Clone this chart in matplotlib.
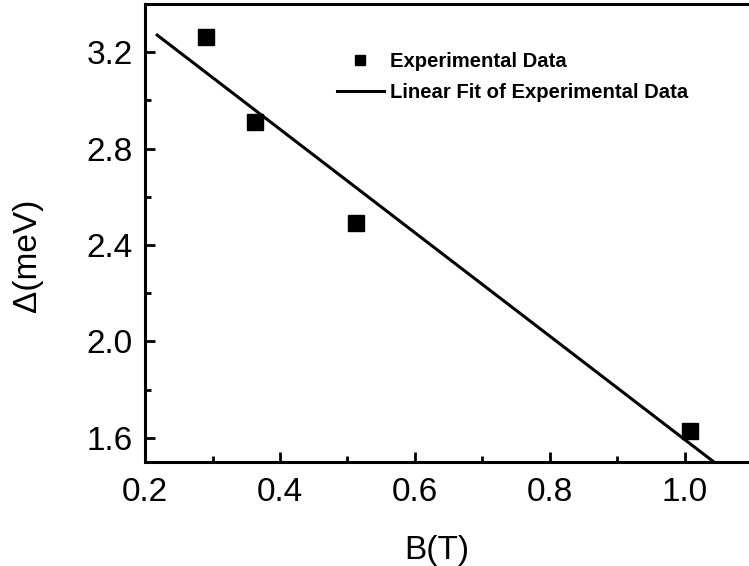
import numpy as np
import matplotlib
matplotlib.use("Agg")
import matplotlib.pyplot as plt
from matplotlib.ticker import MultipleLocator, FormatStrFormatter

plt.rcParams['font.family'] = ['Liberation Sans', 'DejaVu Sans']

# measured gap vs. field
B = [0.290, 0.363, 0.513, 1.007]
gap = [3.263, 2.910, 2.490, 1.628]

slope, intercept = np.polyfit(B, gap, 1)
x_fit = np.array([0.218, 1.1])
y_fit = slope * x_fit + intercept

fig = plt.figure(figsize=(7.49, 5.66), dpi=100)
ax = fig.add_axes([145 / 749, 104 / 566, 607.5 / 749, 458 / 566])

ax.plot(B, gap, 's', color='black', markersize=12, label='Experimental Data')
ax.plot(x_fit, y_fit, '-', color='black', lw=2.2, label='Linear Fit of Experimental Data')

ax.set_xlim(0.2, 1.1)
ax.set_ylim(1.5, 3.4)
ax.xaxis.set_major_locator(MultipleLocator(0.2))
ax.xaxis.set_minor_locator(MultipleLocator(0.1))
ax.yaxis.set_major_locator(MultipleLocator(0.4))
ax.yaxis.set_minor_locator(MultipleLocator(0.2))
ax.xaxis.set_major_formatter(FormatStrFormatter('%.1f'))
ax.yaxis.set_major_formatter(FormatStrFormatter('%.1f'))

ax.spines['right'].set_visible(False)
for s in ['left', 'bottom', 'top']:
    ax.spines[s].set_linewidth(2.2)

ax.tick_params(which='both', direction='in', width=2, labelsize=24)
ax.tick_params(which='major', length=7)
ax.tick_params(which='minor', length=4)
ax.tick_params(axis='x', pad=11)
ax.tick_params(axis='y', pad=9)

ax.set_xlabel('B(T)', fontsize=24)
ax.set_ylabel('Δ(meV)', fontsize=24)
ax.xaxis.set_label_coords((437 - 145) / 607.5, -0.16)
ax.yaxis.set_label_coords((43 - 145) / 607.5, (462 - 255) / 458)

leg = ax.legend(loc='upper left', bbox_to_anchor=(337 / 749, 1 - 52 / 566),
                bbox_transform=fig.transFigure, frameon=False, markerscale=0.55,
                handlelength=2.3, handletextpad=0.3, labelspacing=0.6,
                borderpad=0, borderaxespad=0,
                prop={'size': 14.6, 'weight': 'bold'})

fig.savefig('out.png', dpi=100)
